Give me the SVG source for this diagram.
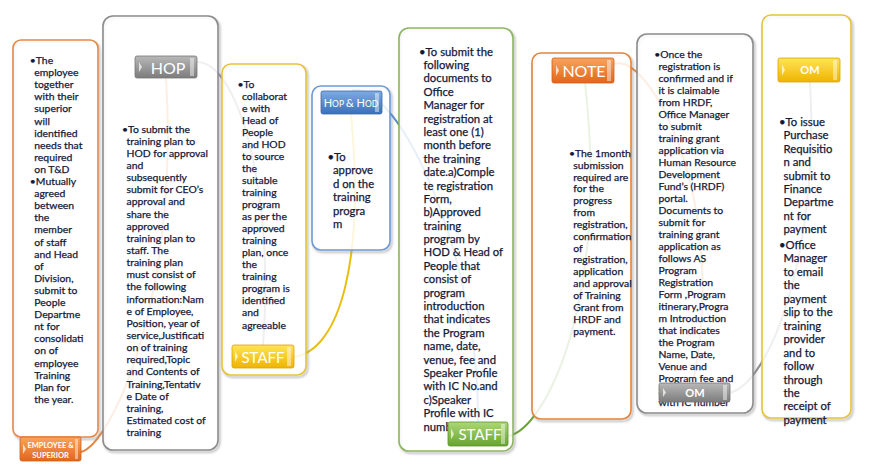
<svg xmlns="http://www.w3.org/2000/svg" width="884" height="476" viewBox="0 0 884 476">
<defs>
<linearGradient id="gGray" x1="0" y1="0" x2="0" y2="1"><stop offset="0" stop-color="#b8b8b8"/><stop offset="1" stop-color="#7c7c7c"/></linearGradient>
<linearGradient id="gOrange" x1="0" y1="0" x2="0" y2="1"><stop offset="0" stop-color="#f8a460"/><stop offset="1" stop-color="#e2661a"/></linearGradient>
<linearGradient id="gYellow" x1="0" y1="0" x2="0" y2="1"><stop offset="0" stop-color="#ffe45a"/><stop offset="1" stop-color="#efb400"/></linearGradient>
<linearGradient id="gBlue" x1="0" y1="0" x2="0" y2="1"><stop offset="0" stop-color="#7fabe2"/><stop offset="1" stop-color="#3b6fba"/></linearGradient>
<linearGradient id="gGreen" x1="0" y1="0" x2="0" y2="1"><stop offset="0" stop-color="#acd876"/><stop offset="1" stop-color="#67a331"/></linearGradient>
<filter id="blur" x="-10%" y="-10%" width="120%" height="120%"><feGaussianBlur stdDeviation="1.2"/></filter>
</defs>
<style>
.box{fill:#ffffff;fill-opacity:0.86;stroke-width:1.6}
.sh{fill:none;stroke:#8a8a8a;stroke-width:2.2;opacity:0.55}
.t{font-family:Lato,"Liberation Sans",sans-serif;font-size:10.4px;fill:#141838;stroke:#141838;stroke-width:0.25}
.tl{font-size:11.3px}
.lbl{stroke-width:0.8}
.lt{font-family:Lato,"Liberation Sans",sans-serif;fill:#ffffff;text-anchor:middle}
.mk{fill:#ffffff;opacity:0.7}
.bv{fill:#ffffff;opacity:0.45}
.con{fill:none;stroke-width:2}
</style>

<g id="connectors">
<path class="con" stroke="#e8843a" d="M81,452 C110,445 180,300 166,78"/>
<path class="con" stroke="#8f8f8f" d="M197,62 C240,62 275,200 263,345"/>
<path class="con" stroke="#e9be10" d="M294,357 C340,350 365,260 351,114"/>
<path class="con" stroke="#5a8acb" d="M352,90 C400,82 480,260 478,422"/>
<path class="con" stroke="#6da33a" d="M508,436 C545,430 610,300 585,83"/>
<path class="con" stroke="#e8843a" d="M614,64 C650,52 730,200 693,383"/>
<path class="con" stroke="#8f8f8f" d="M729,393 C770,385 820,250 810,82"/>
</g>

<g id="node-employee">
<rect class="sh" x="14.5" y="42" width="85" height="397" rx="8" filter="url(#blur)"/>
<rect class="box" x="13" y="40" width="85" height="397" rx="8" stroke="#e5884a"/>
<text class="t" x="29.8" y="64">•The<tspan x="34.3" dy="12.1">employee</tspan><tspan x="34.3" dy="12.1">together</tspan><tspan x="34.3" dy="12.1">with their</tspan><tspan x="34.3" dy="12.1">superior</tspan><tspan x="34.3" dy="12.1">will</tspan><tspan x="34.3" dy="12.1">identified</tspan><tspan x="34.3" dy="12.1">needs that</tspan><tspan x="34.3" dy="12.1">required</tspan><tspan x="34.3" dy="12.1">on T&amp;D</tspan></text>
<text class="t" x="29.8" y="185">•Mutually<tspan x="34.3" dy="12.1">agreed</tspan><tspan x="34.3" dy="12.1">between</tspan><tspan x="34.3" dy="12.1">the</tspan><tspan x="34.3" dy="12.1">member</tspan><tspan x="34.3" dy="12.1">of staff</tspan><tspan x="34.3" dy="12.1">and Head</tspan><tspan x="34.3" dy="12.1">of</tspan><tspan x="34.3" dy="12.1">Division,</tspan><tspan x="34.3" dy="12.1">submit to</tspan><tspan x="34.3" dy="12.1">People</tspan><tspan x="34.3" dy="12.1">Departme</tspan><tspan x="34.3" dy="12.1">nt for</tspan><tspan x="34.3" dy="12.1">consolidati</tspan><tspan x="34.3" dy="12.1">on of</tspan><tspan x="34.3" dy="12.1">employee</tspan><tspan x="34.3" dy="12.1">Training</tspan><tspan x="34.3" dy="12.1">Plan for</tspan><tspan x="34.3" dy="12.1">the year.</tspan></text>
<rect class="lbl" x="20" y="437" width="61" height="24" rx="2" fill="url(#gOrange)" stroke="#d2601a"/>
<path class="mk" d="M23,444 L26,449 L23,454 Z"/>
<rect class="bv" x="75" y="439" width="3" height="20"/>
<text class="lt" x="50.5" y="447.5" font-size="7.5" font-weight="bold">EMPLOYEE &amp;</text>
<text class="lt" x="50.5" y="457.5" font-size="7.5" font-weight="bold">SUPERIOR</text>
</g>

<g id="node-hop">
<rect class="sh" x="104.5" y="18" width="115" height="434" rx="10" filter="url(#blur)"/>
<rect class="box" x="103" y="16" width="115" height="434" rx="10" stroke="#8c8c8c"/>
<text class="t" x="122" y="132.5">•To submit the<tspan x="126.5" dy="12.15">training plan to</tspan><tspan x="126.5" dy="12.15">HOD for approval</tspan><tspan x="126.5" dy="12.15">and</tspan><tspan x="126.5" dy="12.15">subsequently</tspan><tspan x="126.5" dy="12.15">submit for CEO’s</tspan><tspan x="126.5" dy="12.15">approval and</tspan><tspan x="126.5" dy="12.15">share the</tspan><tspan x="126.5" dy="12.15">approved</tspan><tspan x="126.5" dy="12.15">training plan to</tspan><tspan x="126.5" dy="12.15">staff. The</tspan><tspan x="126.5" dy="12.15">training plan</tspan><tspan x="126.5" dy="12.15">must consist of</tspan><tspan x="126.5" dy="12.15">the following</tspan><tspan x="126.5" dy="12.15">information:Nam</tspan><tspan x="126.5" dy="12.15">e of Employee,</tspan><tspan x="126.5" dy="12.15">Position, year of</tspan><tspan x="126.5" dy="12.15">service,Justificati</tspan><tspan x="126.5" dy="12.15">on of training</tspan><tspan x="126.5" dy="12.15">required,Topic</tspan><tspan x="126.5" dy="12.15">and Contents of</tspan><tspan x="126.5" dy="12.15">Training,Tentativ</tspan><tspan x="126.5" dy="12.15">e Date of</tspan><tspan x="126.5" dy="12.15">training,</tspan><tspan x="126.5" dy="12.15">Estimated cost of</tspan><tspan x="126.5" dy="12.15">training</tspan></text>
<rect class="lbl" x="135" y="56" width="62" height="22" rx="2" fill="url(#gGray)" stroke="#777"/>
<path class="mk" d="M139,62 L142,67 L139,72 Z"/>
<rect class="bv" x="190" y="58" width="4" height="18"/>
<text class="lt" x="168" y="73.5" font-size="16">HOP</text>
</g>

<g id="node-staff-1">
<rect class="sh" x="223.5" y="66" width="84" height="311" rx="9" filter="url(#blur)"/>
<rect class="box" x="222" y="64" width="84" height="311" rx="9" stroke="#e8c33a"/>
<text class="t" x="237.5" y="87.5">•To<tspan x="242" dy="12.05">collaborat</tspan><tspan x="242" dy="12.05">e with</tspan><tspan x="242" dy="12.05">Head of</tspan><tspan x="242" dy="12.05">People</tspan><tspan x="242" dy="12.05">and HOD</tspan><tspan x="242" dy="12.05">to source</tspan><tspan x="242" dy="12.05">the</tspan><tspan x="242" dy="12.05">suitable</tspan><tspan x="242" dy="12.05">training</tspan><tspan x="242" dy="12.05">program</tspan><tspan x="242" dy="12.05">as per the</tspan><tspan x="242" dy="12.05">approved</tspan><tspan x="242" dy="12.05">training</tspan><tspan x="242" dy="12.05">plan, once</tspan><tspan x="242" dy="12.05">the</tspan><tspan x="242" dy="12.05">training</tspan><tspan x="242" dy="12.05">program is</tspan><tspan x="242" dy="12.05">identified</tspan><tspan x="242" dy="12.05">and</tspan><tspan x="242" dy="12.05">agreeable</tspan></text>
<rect class="lbl" x="232" y="345" width="62" height="23" rx="2" fill="url(#gYellow)" stroke="#d9a400"/>
<path class="mk" d="M235,351 L238,356.5 L235,362 Z"/>
<rect class="bv" x="287" y="347" width="4" height="19"/>
<text class="lt" x="263" y="362.5" font-size="15">STAFF</text>
</g>

<g id="node-hop-hod">
<rect class="sh" x="313.5" y="88" width="78" height="164" rx="9" filter="url(#blur)"/>
<rect class="box" x="312" y="86" width="78" height="164" rx="9" stroke="#6d9ad3"/>
<text class="t tl" x="327.5" y="161">•To<tspan x="333" dy="13.4">approve</tspan><tspan x="333" dy="13.4">d on the</tspan><tspan x="333" dy="13.4">training</tspan><tspan x="333" dy="13.4">progra</tspan><tspan x="333" dy="13.4">m</tspan></text>
<rect class="lbl" x="321" y="91" width="61" height="23" rx="2" fill="url(#gBlue)" stroke="#3a69ad"/>
<rect class="bv" x="375" y="93" width="4" height="19"/>
<text class="lt" x="351" y="107"><tspan font-size="11">H</tspan><tspan font-size="8.5">OP </tspan><tspan font-size="11">&amp; H</tspan><tspan font-size="8.5">OD</tspan></text>
</g>

<g id="node-staff-2">
<rect class="sh" x="400.5" y="30" width="114" height="423" rx="10" filter="url(#blur)"/>
<rect class="box" x="399" y="28" width="114" height="423" rx="10" stroke="#8db560"/>
<text class="t tl" x="419" y="55.5">•To submit the<tspan x="423.5" dy="13.4">following</tspan><tspan x="423.5" dy="13.4">documents to</tspan><tspan x="423.5" dy="13.4">Office</tspan><tspan x="423.5" dy="13.4">Manager for</tspan><tspan x="423.5" dy="13.4">registration at</tspan><tspan x="423.5" dy="13.4">least one (1)</tspan><tspan x="423.5" dy="13.4">month before</tspan><tspan x="423.5" dy="13.4">the training</tspan><tspan x="423.5" dy="13.4">date.a)Comple</tspan><tspan x="423.5" dy="13.4">te registration</tspan><tspan x="423.5" dy="13.4">Form,</tspan><tspan x="423.5" dy="13.4">b)Approved</tspan><tspan x="423.5" dy="13.4">training</tspan><tspan x="423.5" dy="13.4">program by</tspan><tspan x="423.5" dy="13.4">HOD &amp; Head of</tspan><tspan x="423.5" dy="13.4">People that</tspan><tspan x="423.5" dy="13.4">consist of</tspan><tspan x="423.5" dy="13.4">program</tspan><tspan x="423.5" dy="13.4">introduction</tspan><tspan x="423.5" dy="13.4">that indicates</tspan><tspan x="423.5" dy="13.4">the Program</tspan><tspan x="423.5" dy="13.4">name, date,</tspan><tspan x="423.5" dy="13.4">venue, fee and</tspan><tspan x="423.5" dy="13.4">Speaker Profile</tspan><tspan x="423.5" dy="13.4">with IC No.and</tspan><tspan x="423.5" dy="13.4">c)Speaker</tspan><tspan x="423.5" dy="13.4">Profile with IC</tspan><tspan x="423.5" dy="13.4">number</tspan></text>
<rect class="lbl" x="448" y="422" width="60" height="24" rx="2" fill="url(#gGreen)" stroke="#5c9428"/>
<path class="mk" d="M451,428.5 L454,434 L451,439.5 Z"/>
<rect class="bv" x="501" y="424" width="4" height="20"/>
<text class="lt" x="480" y="439.5" font-size="15">STAFF</text>
</g>

<g id="node-note">
<rect class="sh" x="533.5" y="55" width="99" height="366" rx="9" filter="url(#blur)"/>
<rect class="box" x="532" y="53" width="99" height="366" rx="9" stroke="#e0843e"/>
<text class="t" x="569" y="156.8">•The 1month<tspan x="573.3" dy="11.85">submission</tspan><tspan x="573.3" dy="11.85">required are</tspan><tspan x="573.3" dy="11.85">for the</tspan><tspan x="573.3" dy="11.85">progress</tspan><tspan x="573.3" dy="11.85">from</tspan><tspan x="573.3" dy="11.85">registration,</tspan><tspan x="573.3" dy="11.85">confirmation</tspan><tspan x="573.3" dy="11.85">of</tspan><tspan x="573.3" dy="11.85">registration,</tspan><tspan x="573.3" dy="11.85">application</tspan><tspan x="573.3" dy="11.85">and approval</tspan><tspan x="573.3" dy="11.85">of Training</tspan><tspan x="573.3" dy="11.85">Grant from</tspan><tspan x="573.3" dy="11.85">HRDF and</tspan><tspan x="573.3" dy="11.85">payment.</tspan></text>
<rect class="lbl" x="552" y="58" width="62" height="25" rx="2" fill="url(#gOrange)" stroke="#d2601a"/>
<path class="mk" d="M556,65 L559,70.5 L556,76 Z"/>
<rect class="bv" x="607" y="60" width="4" height="21"/>
<text class="lt" x="584" y="77" font-size="16">NOTE</text>
</g>

<g id="node-om-1">
<rect class="sh" x="638.5" y="36" width="116" height="379" rx="10" filter="url(#blur)"/>
<rect class="box" x="637" y="34" width="116" height="379" rx="10" stroke="#8c8c8c"/>
<text class="t" x="654.3" y="57.5">•Once the<tspan x="658.5" dy="12">registration is</tspan><tspan x="658.5" dy="12">confirmed and if</tspan><tspan x="658.5" dy="12">it is claimable</tspan><tspan x="658.5" dy="12">from HRDF,</tspan><tspan x="658.5" dy="12">Office Manager</tspan><tspan x="658.5" dy="12">to submit</tspan><tspan x="658.5" dy="12">training grant</tspan><tspan x="658.5" dy="12">application via</tspan><tspan x="658.5" dy="12">Human Resource</tspan><tspan x="658.5" dy="12">Development</tspan><tspan x="658.5" dy="12">Fund’s (HRDF)</tspan><tspan x="658.5" dy="12">portal.</tspan><tspan x="658.5" dy="12">Documents to</tspan><tspan x="658.5" dy="12">submit for</tspan><tspan x="658.5" dy="12">training grant</tspan><tspan x="658.5" dy="12">application as</tspan><tspan x="658.5" dy="12">follows AS</tspan><tspan x="658.5" dy="12">Program</tspan><tspan x="658.5" dy="12">Registration</tspan><tspan x="658.5" dy="12">Form ,Program</tspan><tspan x="658.5" dy="12">itinerary,Progra</tspan><tspan x="658.5" dy="12">m Introduction</tspan><tspan x="658.5" dy="12">that indicates</tspan><tspan x="658.5" dy="12">the Program</tspan><tspan x="658.5" dy="12">Name, Date,</tspan><tspan x="658.5" dy="12">Venue and</tspan><tspan x="658.5" dy="12">Program fee and</tspan><tspan x="658.5" dy="12">Speaker Profile</tspan><tspan x="658.5" dy="12">with IC number</tspan></text>
<rect class="lbl" x="659" y="383" width="71" height="19" rx="2" fill="url(#gGray)" stroke="#777"/>
<path class="mk" d="M663,388 L666,392.5 L663,397 Z"/>
<rect class="bv" x="723" y="385" width="4" height="15"/>
<text class="lt" x="695" y="396.5" font-size="11" font-weight="bold">OM</text>
</g>

<g id="node-om-2">
<rect class="sh" x="763.5" y="17" width="89" height="403" rx="9" filter="url(#blur)"/>
<rect class="box" x="762" y="15" width="89" height="403" rx="9" stroke="#e8c33a"/>
<text class="t tl" x="779" y="126">•To issue<tspan x="783.5" dy="13.4">Purchase</tspan><tspan x="783.5" dy="13.4">Requisitio</tspan><tspan x="783.5" dy="13.4">n and</tspan><tspan x="783.5" dy="13.4">submit to</tspan><tspan x="783.5" dy="13.4">Finance</tspan><tspan x="783.5" dy="13.4">Departme</tspan><tspan x="783.5" dy="13.4">nt for</tspan><tspan x="783.5" dy="13.4">payment</tspan></text>
<text class="t tl" x="779" y="249">•Office<tspan x="783.5" dy="13.45">Manager</tspan><tspan x="783.5" dy="13.45">to email</tspan><tspan x="783.5" dy="13.45">the</tspan><tspan x="783.5" dy="13.45">payment</tspan><tspan x="783.5" dy="13.45">slip to the</tspan><tspan x="783.5" dy="13.45">training</tspan><tspan x="783.5" dy="13.45">provider</tspan><tspan x="783.5" dy="13.45">and to</tspan><tspan x="783.5" dy="13.45">follow</tspan><tspan x="783.5" dy="13.45">through</tspan><tspan x="783.5" dy="13.45">the</tspan><tspan x="783.5" dy="13.45">receipt of</tspan><tspan x="783.5" dy="13.45">payment</tspan></text>
<rect class="lbl" x="778" y="58" width="62" height="24" rx="2" fill="url(#gYellow)" stroke="#d9a400"/>
<path class="mk" d="M782,64.5 L785,70 L782,75.5 Z"/>
<rect class="bv" x="833" y="60" width="4" height="20"/>
<text class="lt" x="810" y="74" font-size="11" font-weight="bold">OM</text>
</g>
</svg>
